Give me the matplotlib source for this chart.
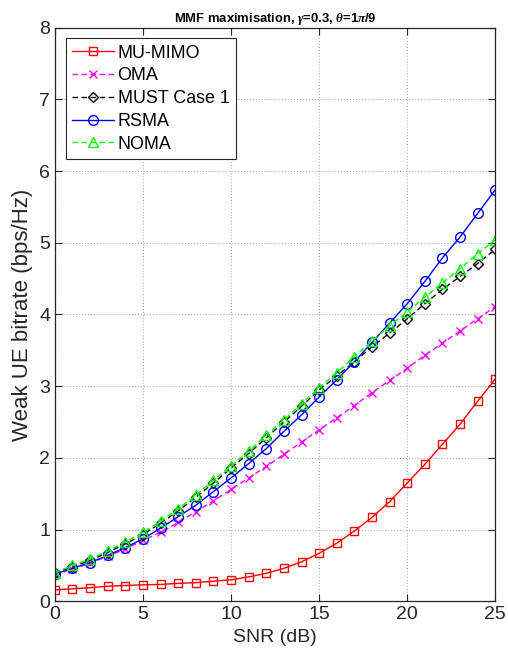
import matplotlib.pyplot as plt
import numpy as np

plt.rcParams['font.family'] = ['Liberation Sans', 'DejaVu Sans']
plt.rcParams['mathtext.fontset'] = 'custom'
plt.rcParams['mathtext.it'] = 'Liberation Serif:italic:bold'

# weak-user rate vs SNR, MMF maximisation
snr = list(range(0, 26))

mu_mimo = [0.16, 0.175, 0.19, 0.21, 0.22, 0.23, 0.235, 0.25, 0.26, 0.28, 0.30, 0.34, 0.39,
           0.46, 0.55, 0.67, 0.81, 0.98, 1.17, 1.39, 1.65, 1.91, 2.19, 2.47, 2.79, 3.10]
oma = [0.37, 0.45, 0.53, 0.63, 0.73, 0.85, 0.96, 1.10, 1.25, 1.40, 1.56, 1.72, 1.88,
       2.05, 2.22, 2.39, 2.56, 2.73, 2.91, 3.08, 3.25, 3.43, 3.60, 3.77, 3.94, 4.11]
must1 = [0.39, 0.48, 0.57, 0.68, 0.80, 0.93, 1.09, 1.26, 1.45, 1.65, 1.86, 2.06, 2.28,
         2.50, 2.72, 2.95, 3.14, 3.34, 3.55, 3.74, 3.94, 4.15, 4.35, 4.53, 4.71, 4.91]
rsma = [0.38, 0.46, 0.54, 0.64, 0.75, 0.87, 1.02, 1.18, 1.34, 1.53, 1.72, 1.92, 2.13,
        2.37, 2.60, 2.85, 3.09, 3.34, 3.61, 3.88, 4.15, 4.46, 4.79, 5.08, 5.41, 5.74]
noma = [0.40, 0.50, 0.59, 0.70, 0.83, 0.96, 1.12, 1.29, 1.48, 1.69, 1.89, 2.09, 2.32,
        2.53, 2.75, 2.98, 3.19, 3.41, 3.63, 3.84, 4.04, 4.24, 4.44, 4.64, 4.85, 5.04]

dark = '#262626'
dash = (4, 2.5)

fig = plt.figure(figsize=(5.08, 6.62), dpi=100)
ax = fig.add_axes([0.108, 0.0917, 0.867, 0.8665])

ax.plot(snr, mu_mimo, 's-', color='red', lw=1.0, ms=6, mfc='none', mew=1.0, label='MU-MIMO')
ax.plot(snr, oma, 'x--', color='magenta', lw=1.0, ms=6, mew=1.0, dashes=dash, label='OMA')
ax.plot(snr, must1, 'D--', color='black', lw=1.0, ms=5.5, mfc='none', mew=1.0, dashes=dash,
        label='MUST Case 1')
ax.plot(snr, rsma, 'o-', color='blue', lw=1.0, ms=7, mfc='none', mew=1.0, label='RSMA')
ax.plot(snr, noma, '^--', color=(0, 1, 0), lw=1.0, ms=7, mfc='none', mew=1.0, dashes=dash,
        label='NOMA')

ax.set_xlim(0, 25)
ax.set_ylim(0, 8)
ax.set_xticks(np.arange(0, 26, 5))
ax.set_yticks(np.arange(0, 9, 1))
ax.tick_params(direction='in', top=True, right=True, labelsize=14, length=5, width=0.8,
               color=dark, labelcolor=dark)
ax.grid(True, linestyle=':', color='#b0b0b0', linewidth=0.8)
for s in ax.spines.values():
    s.set_linewidth(0.9)
    s.set_color(dark)

ax.set_xlabel('SNR (dB)', fontsize=14, color=dark)
ax.set_ylabel('Weak UE bitrate (bps/Hz)', fontsize=16, color=dark)
ax.set_title(r'MMF maximisation, $\gamma$=0.3, $\theta$=1$\pi$/9', fontsize=9.4,
             fontweight='bold', pad=4)

leg = ax.legend(loc='upper left', fontsize=12.9, fancybox=False, edgecolor=dark,
                framealpha=1, borderaxespad=0.6, handlelength=2.35, labelspacing=0.32,
                borderpad=0.35, handletextpad=0.2)
leg.get_frame().set_linewidth(0.8)

fig.savefig('out.png')
